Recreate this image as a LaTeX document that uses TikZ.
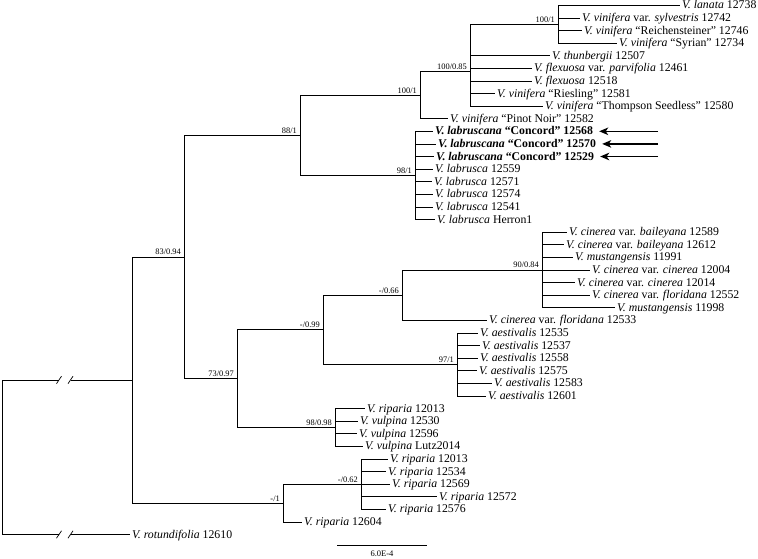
\documentclass[tikz,border=0pt]{standalone}
\usepackage{fontspec}
\setmainfont{Liberation Serif}
\usetikzlibrary{arrows.meta,calc}
\tikzset{
  br/.style={line width=0.75pt, black},
  lf/.style={anchor=west, inner xsep=2pt, inner ysep=0pt, font=\fontsize{11.8}{13}\selectfont, text height=8pt, text depth=0.8pt},
  bs/.style={anchor=base east, inner sep=0pt, font=\fontsize{8.4}{9}\selectfont},
  arr/.style={line width=1.5pt, -{Stealth[length=9pt,width=7.5pt,inset=2.5pt]}, shorten >=4pt},
  slash/.style={line width=0.7pt},
  scl/.style={anchor=north, inner sep=0pt, font=\fontsize{8.5}{9}\selectfont}
}
\newcommand\leaf[5]{\coordinate (#1) at (#3,#4); \draw[br] (#2) |- (#1); \node[lf] (#1t) at (#1) {#5};}
\newcommand\inode[4]{\coordinate (#1) at (#3,#4); \draw[br] (#2) |- (#1);}
\newcommand\bsl[2]{\node[bs] (#1b) at ([shift={(-3pt,2pt)}]#1) {#2};}
\newcommand\brk[1]{\draw[slash] ([shift={(-2.5,3.7)}]#1) -- ++(5,-7.4);}
\begin{document}
\begin{tikzpicture}[x=1pt,y=-1pt]
\useasboundingbox (0,0) rectangle (758,558);
% root and break marks
\coordinate (R) at (2,457.2);
\coordinate (A) at (132,379.95);
\coordinate (bA1) at (59,379.95);
\coordinate (bA2) at (70.5,379.95);
\draw[br] (R) |- (bA1);
\draw[br] (bA2) -- (A);
\brk{bA1}\brk{bA2}
\coordinate (bO1) at (59,534.5);
\coordinate (bO2) at (70.5,534.5);
\draw[br] (R) |- (bO1);
\brk{bO1}\brk{bO2}
\coordinate (l42) at (130,534.5);
\draw[br] (bO2) -- (l42);
\node[lf] (l42t) at (l42) {\textit{V. rotundifolia} 12610};
% internal nodes
\inode{B}{A}{184}{256.9}
\inode{N}{A}{283}{503.0}
\inode{C}{B}{300}{135.24}
\inode{L}{B}{237}{378.6}
\inode{D}{C}{420}{95.08}
\inode{F}{C}{415}{175.4}
\inode{E}{D}{470}{71.45}
\inode{G}{E}{558}{24.2}
\inode{J}{L}{323}{329.75}
\inode{M}{L}{335}{427.4}
\inode{H}{J}{402}{295.1}
\inode{K}{J}{457}{364.4}
\inode{I}{H}{542}{269.9}
\inode{O}{N}{361}{484.1}
% leaves
\leaf{l0}{G}{680}{5.3}{\textit{V. lanata} 12738}
\leaf{l1}{G}{580}{17.9}{\textit{V. vinifera} var. \textit{sylvestris} 12742}
\leaf{l2}{G}{582}{30.5}{\textit{V. vinifera} “Reichensteiner” 12746}
\leaf{l3}{G}{617}{43.1}{\textit{V. vinifera} “Syrian” 12734}
\leaf{l4}{E}{550}{55.7}{\textit{V. thunbergii} 12507}
\leaf{l5}{E}{532}{68.3}{\textit{V. flexuosa} var. \textit{parvifolia} 12461}
\leaf{l6}{E}{532}{80.9}{\textit{V. flexuosa} 12518}
\leaf{l7}{E}{495}{93.5}{\textit{V. vinifera} “Riesling” 12581}
\leaf{l8}{E}{543}{106.1}{\textit{V. vinifera} “Thompson Seedless” 12580}
\leaf{l9}{D}{448}{118.7}{\textit{V. vinifera} “Pinot Noir” 12582}
\leaf{l10}{F}{433}{131.3}{\textbf{\textit{V. labruscana} “Concord” 12568}}
\leaf{l11}{F}{436}{143.9}{\textbf{\textit{V. labruscana} “Concord” 12570}}
\leaf{l12}{F}{434}{156.5}{\textbf{\textit{V. labruscana} “Concord” 12529}}
\leaf{l13}{F}{433}{169.1}{\textit{V. labrusca} 12559}
\leaf{l14}{F}{432}{181.7}{\textit{V. labrusca} 12571}
\leaf{l15}{F}{433}{194.3}{\textit{V. labrusca} 12574}
\leaf{l16}{F}{433}{206.9}{\textit{V. labrusca} 12541}
\leaf{l17}{F}{435}{219.5}{\textit{V. labrusca} Herron1}
\leaf{l18}{I}{567}{232.1}{\textit{V. cinerea} var. \textit{baileyana} 12589}
\leaf{l19}{I}{564}{244.7}{\textit{V. cinerea} var. \textit{baileyana} 12612}
\leaf{l20}{I}{573}{257.3}{\textit{V. mustangensis} 11991}
\leaf{l21}{I}{590}{269.9}{\textit{V. cinerea} var. \textit{cinerea} 12004}
\leaf{l22}{I}{575}{282.5}{\textit{V. cinerea} var. \textit{cinerea} 12014}
\leaf{l23}{I}{590}{295.1}{\textit{V. cinerea} var. \textit{floridana} 12552}
\leaf{l24}{I}{615}{307.7}{\textit{V. mustangensis} 11998}
\leaf{l25}{H}{487}{320.3}{\textit{V. cinerea} var. \textit{floridana} 12533}
\leaf{l26}{K}{478}{332.9}{\textit{V. aestivalis} 12535}
\leaf{l27}{K}{480}{345.5}{\textit{V. aestivalis} 12537}
\leaf{l28}{K}{478}{358.1}{\textit{V. aestivalis} 12558}
\leaf{l29}{K}{477}{370.7}{\textit{V. aestivalis} 12575}
\leaf{l30}{K}{492}{383.3}{\textit{V. aestivalis} 12583}
\leaf{l31}{K}{486}{395.9}{\textit{V. aestivalis} 12601}
\leaf{l32}{M}{365}{408.5}{\textit{V. riparia} 12013}
\leaf{l33}{M}{358}{421.1}{\textit{V. vulpina} 12530}
\leaf{l34}{M}{357}{433.7}{\textit{V. vulpina} 12596}
\leaf{l35}{M}{363}{446.3}{\textit{V. vulpina} Lutz2014}
\leaf{l36}{O}{388}{458.9}{\textit{V. riparia} 12013}
\leaf{l37}{O}{386}{471.5}{\textit{V. riparia} 12534}
\leaf{l38}{O}{390}{484.1}{\textit{V. riparia} 12569}
\leaf{l39}{O}{437}{496.7}{\textit{V. riparia} 12572}
\leaf{l40}{O}{386}{509.3}{\textit{V. riparia} 12576}
\leaf{l41}{N}{302}{521.9}{\textit{V. riparia} 12604}
% support values
\bsl{B}{83/0.94}
\bsl{C}{88/1}
\bsl{D}{100/1}
\bsl{E}{100/0.85}
\bsl{G}{100/1}
\bsl{F}{98/1}
\bsl{L}{73/0.97}
\bsl{J}{-/0.99}
\bsl{H}{-/0.66}
\bsl{I}{90/0.84}
\bsl{K}{97/1}
\bsl{M}{98/0.98}
\bsl{N}{-/1}
\bsl{O}{-/0.62}
% arrows
\coordinate (a10) at (658,131.3);
\coordinate (a11) at (658,143.9);
\coordinate (a12) at (658,156.5);
\draw[arr] (a10) -- (l10t.east |- a10);
\draw[arr] (a11) -- (l11t.east |- a11);
\draw[arr] (a12) -- (l12t.east |- a12);
% scale bar
\coordinate (s1) at (337,545.5);
\coordinate (s2) at (427,545.5);
\draw[br] (s1) -- (s2);
\node[scl] (sl) at ($(s1)!0.5!(s2)+(0,5)$) {6.0E-4};
\end{tikzpicture}
\end{document}
